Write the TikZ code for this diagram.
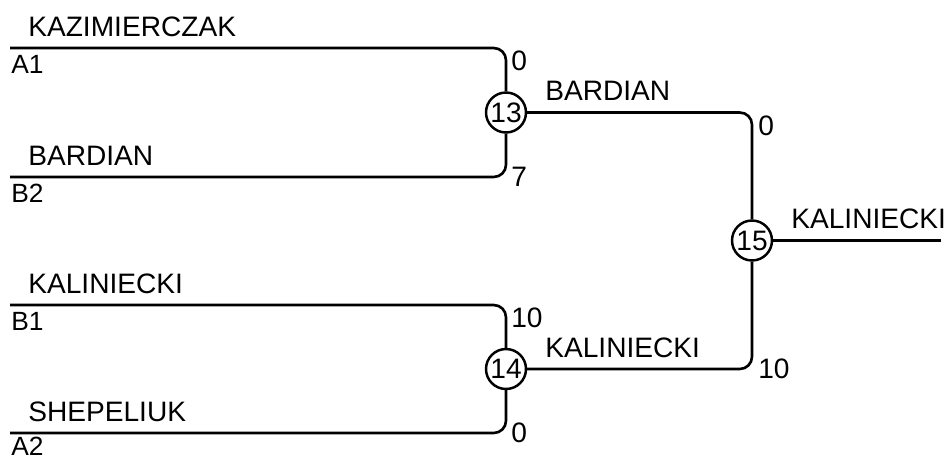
\documentclass[tikz,border=0pt]{standalone}
\usepackage{fontspec}
\setmainfont{Liberation Sans}
\begin{document}
\begin{tikzpicture}[
        x=0.02cm, y=-0.02cm, line width=1.5pt,
        every node/.style={font=\fontsize{16}{19}\selectfont},
        game/.style={circle, draw, line width=1.4pt, minimum size=0.8cm, inner sep=0pt},
        player/.style={anchor=base west, inner sep=0pt},
        seed/.style={anchor=north west, inner sep=0pt, font=\fontsize{15}{18}\selectfont},
        score/.style={anchor=north west, inner sep=0pt},
        link/.style={rounded corners=7pt}
    ]
    \useasboundingbox (0,0) rectangle (946,457);
    % first round
    \coordinate (a1) at (10,48);
    \coordinate (b2) at (10,177);
    \coordinate (b1) at (10,305);
    \coordinate (a2) at (10,433);
    \node[game] (g13) at (506,112.5) {13};
    \node[game] (g14) at (506,369) {14};
    \node[game] (g15) at (752,240.5) {15};
    \coordinate (win) at (941,240.5);

    \draw[link] (a1) -| (g13.north);
    \draw[link] (b2) -| (g13.south);
    \draw[link] (b1) -| (g14.north);
    \draw[link] (a2) -| (g14.south);
    \draw[link] (g13.east) -| (g15.north);
    \draw[link] (g14.east) -| (g15.south);
    \draw (g15.east) -- (win);

    % names and seeds
    \node[player] (na1) at (27,36) {KAZIMIERCZAK};
    \node[seed] (sa1) at (10,54) {A1};
    \node[player] (nb2) at (27,165) {BARDIAN};
    \node[seed] (sb2) at (10,183) {B2};
    \node[player] (nb1) at (27,293) {KALINIECKI};
    \node[seed] (sb1) at (10,311) {B1};
    \node[player] (na2) at (27,421) {SHEPELIUK};
    \node[seed] (sa2) at (10,436) {A2};
    \node[player] (n13) at (544,100) {BARDIAN};
    \node[player] (n14) at (544,357) {KALINIECKI};
    \node[player] (n15) at (790,228) {KALINIECKI};

    % scores
    \node[score] (s1) at (510,50) {0};
    \node[score] (s2) at (510,166) {7};
    \node[score] (s3) at (510,307) {10};
    \node[score] (s4) at (510,422) {0};
    \node[score] (s5) at (757,115) {0};
    \node[score] (s6) at (757,358) {10};
\end{tikzpicture}
\end{document}
